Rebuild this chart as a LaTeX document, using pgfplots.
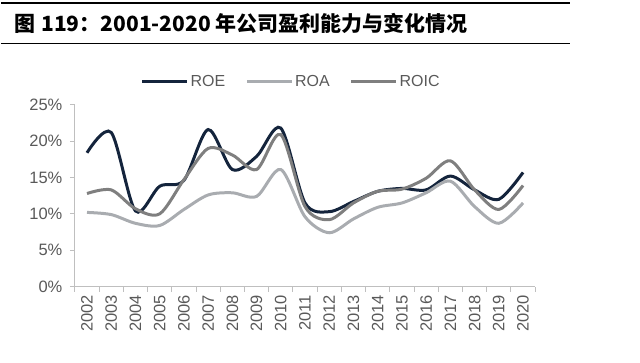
\documentclass[border=0pt]{standalone}
\usepackage{pgfplots}
\pgfplotsset{compat=1.18}
\usepackage{fontspec}
\setmainfont{Liberation Sans}
\newfontfamily\cjk{Noto Sans CJK SC}
\definecolor{roe}{HTML}{14243C}
\definecolor{roa}{HTML}{A9ACB0}
\definecolor{roic}{HTML}{7F7F7F}
\definecolor{axisgray}{HTML}{BFBFBF}
\definecolor{labgray}{HTML}{595959}
\begin{document}
\begin{tikzpicture}[x=1pt,y=1pt]
\path (0,0) rectangle (640,363);
\draw[line width=2pt] (0,360.3) -- (570,360.3);
\draw[line width=1.5pt] (0,319.5) -- (570,319.5);
\node[anchor=west,inner sep=0pt] at (13,339) {\cjk\bfseries\fontsize{21}{24}\selectfont 图\hspace{0.3em}119：2001-2020 年公司盈利能力与变化情况};
\begin{axis}[
  at={(74pt,76pt)}, anchor=south west,
  scale only axis, width=461pt, height=182pt,
  xmin=-0.5, xmax=18.5, ymin=0, ymax=25,
  axis x line*=bottom, axis y line*=left,
  axis line style={axisgray, line width=1pt, -},
  xtick={0,...,18},
  xticklabels={2002,2003,2004,2005,2006,2007,2008,2009,2010,2011,2012,2013,2014,2015,2016,2017,2018,2019,2020},
  minor xtick={-0.5,0.5,...,18.5},
  major x tick style={draw=none},
  minor x tick style={axisgray, line width=1pt},
  minor tick length=5pt,
  ytick={0,5,...,25},
  yticklabel={\pgfmathprintnumber{\tick}\%},
  major y tick style={axisgray, line width=1pt},
  major tick length=5pt,
  tick align=outside,
  xticklabel style={rotate=90, anchor=east, font=\fontsize{16.5}{18}\selectfont, text=labgray},
  yticklabel style={font=\fontsize{16.5}{18}\selectfont, text=labgray, xshift=-4pt},
  /pgf/number format/assume math mode=true,
  legend style={at={(0.47,1.126)}, anchor=center, draw=none, fill=none,
    legend columns=3, font=\fontsize{16}{18}\selectfont, text=labgray,
    /tikz/every even column/.append style={column sep=18pt}},
  legend image code/.code={\draw[#1] (0pt,0pt) -- (45pt,0pt);},
  every axis plot/.append style={line width=3pt, smooth, no markers},
]
\addplot[roe] coordinates {(0,18.4)(1,21.2)(2,10.4)(3,13.8)(4,14.6)(5,21.6)(6,16.1)(7,17.9)(8,21.8)(9,11.5)(10,10.3)(11,11.7)(12,13.1)(13,13.5)(14,13.3)(15,15.2)(16,13.3)(17,12.0)(18,15.7)};
\addlegendentry{ROE}
\addplot[roa] coordinates {(0,10.2)(1,9.9)(2,8.7)(3,8.4)(4,10.6)(5,12.6)(6,12.9)(7,12.4)(8,16.1)(9,9.6)(10,7.4)(11,9.3)(12,10.9)(13,11.5)(14,12.9)(15,14.5)(16,11.0)(17,8.7)(18,11.5)};
\addlegendentry{ROA}
\addplot[roic] coordinates {(0,12.8)(1,13.3)(2,10.7)(3,10.0)(4,14.7)(5,19.0)(6,18.1)(7,16.1)(8,20.9)(9,11.0)(10,9.2)(11,11.5)(12,13.1)(13,13.4)(14,14.9)(15,17.3)(16,13.3)(17,10.6)(18,13.9)};
\addlegendentry{ROIC}
\end{axis}
\end{tikzpicture}
\end{document}
